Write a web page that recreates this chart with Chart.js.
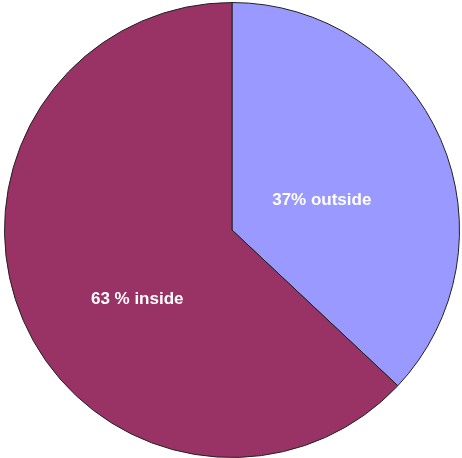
<!DOCTYPE html>
<html>
<head>
<meta charset="utf-8">
<script src="https://cdn.jsdelivr.net/npm/chart.js@4/dist/chart.umd.min.js"></script>
<style>
  html, body { margin: 0; padding: 0; background: #fff; }
  #wrap { width: 462px; height: 458px; }
</style>
</head>
<body>
<div id="wrap"><canvas id="chart"></canvas></div>
<script>
const categories = ['outside', 'inside'];
const shares = [37, 63];
const sliceLabels = ['37% outside', '63 % inside'];
const sliceColors = ['#9999FF', '#993366'];

// where each label sits inside its slice (fraction of radius, angle shift in radians)
const labelRadius = [0.416, 0.515];
const labelShift = [0.087, -0.22];

const sliceLabelPlugin = {
  id: 'sliceLabels',
  afterDatasetsDraw(chart) {
    const ctx = chart.ctx;
    const meta = chart.getDatasetMeta(0);
    ctx.save();
    ctx.font = 'bold 17px "Liberation Sans", Arial, sans-serif';
    ctx.fillStyle = '#ffffff';
    ctx.textAlign = 'center';
    ctx.textBaseline = 'middle';
    meta.data.forEach((arc, i) => {
      const p = arc.getProps(['x', 'y', 'startAngle', 'endAngle', 'outerRadius'], true);
      const mid = (p.startAngle + p.endAngle) / 2 + labelShift[i];
      const r = p.outerRadius * labelRadius[i];
      ctx.fillText(sliceLabels[i], p.x + Math.cos(mid) * r, p.y + Math.sin(mid) * r);
    });
    ctx.restore();
  },
};

new Chart(document.getElementById('chart'), {
  type: 'pie',
  data: {
    labels: categories,
    datasets: [{
      data: shares,
      backgroundColor: sliceColors,
      borderColor: '#222222',
      borderWidth: 1,
    }],
  },
  options: {
    responsive: true,
    maintainAspectRatio: false,
    animation: false,
    layout: { padding: { top: 2, bottom: 0, left: 2, right: 0 } },
    plugins: {
      legend: { display: false },
      tooltip: { enabled: false },
    },
  },
  plugins: [sliceLabelPlugin],
});
</script>
</body>
</html>
